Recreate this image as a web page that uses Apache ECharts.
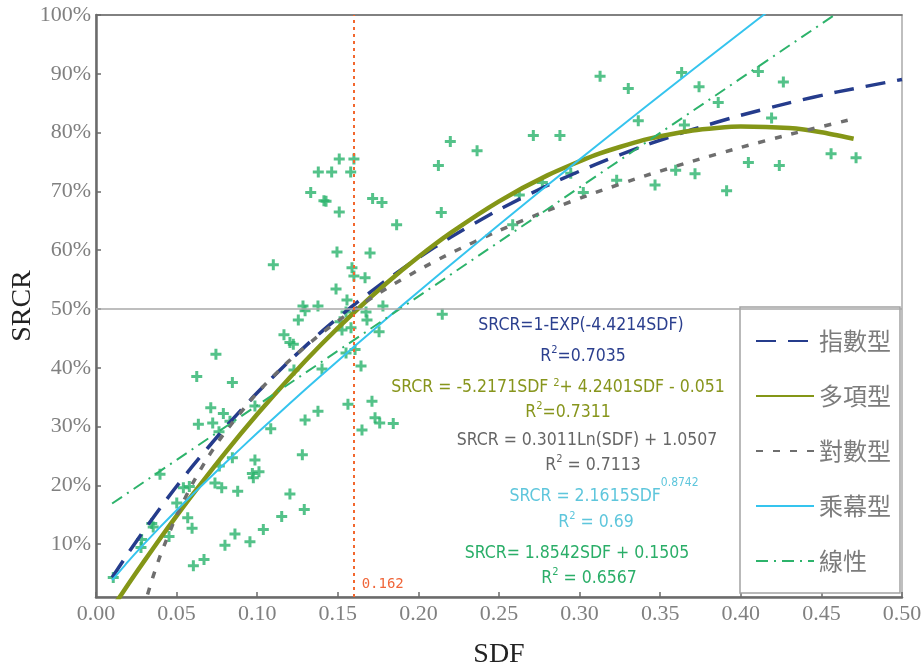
<!DOCTYPE html>
<html>
<head>
<meta charset="utf-8">
<script src="https://cdn.jsdelivr.net/npm/echarts@6/dist/echarts.min.js"></script>
<style>
  html, body { margin: 0; padding: 0; background: #ffffff; }
  #chart { width: 923px; height: 668px; }
</style>
</head>
<body>
<div id="chart"></div>
<script>
// Y-axis tick positions (shown as percentages)
const yTicks = [0.1, 0.2, 0.3, 0.4, 0.5, 0.6, 0.7, 0.8, 0.9, 1.0];
// Reference lines
const cutoffSDF = 0.162;
const refSRCR = 0.5;

// Observed samples [SDF, SRCR]
const observed = [
  [0.0107, 0.043], [0.0283, 0.108], [0.0279, 0.094], [0.0346, 0.135], [0.0355, 0.129],
  [0.0397, 0.219], [0.0453, 0.113], [0.0501, 0.170], [0.0542, 0.196], [0.0579, 0.198],
  [0.0569, 0.145], [0.0596, 0.127], [0.0604, 0.063], [0.0670, 0.074], [0.0738, 0.204],
  [0.0765, 0.233], [0.0780, 0.196], [0.0846, 0.247], [0.0879, 0.190], [0.0800, 0.098],
  [0.0862, 0.117], [0.0955, 0.104], [0.0986, 0.243], [0.0970, 0.220], [0.0976, 0.213],
  [0.1011, 0.223], [0.1038, 0.125], [0.1152, 0.147], [0.1203, 0.185], [0.1280, 0.252],
  [0.1292, 0.159],
  [0.1100, 0.575], [0.0744, 0.423], [0.0625, 0.385], [0.0846, 0.375], [0.0712, 0.332],
  [0.0635, 0.304], [0.0724, 0.306], [0.0790, 0.322], [0.0763, 0.291], [0.0831, 0.309],
  [0.0986, 0.335], [0.1084, 0.296], [0.1166, 0.456], [0.1203, 0.443], [0.1224, 0.440],
  [0.1255, 0.481], [0.1228, 0.396],
  [0.1495, 0.597], [0.1588, 0.570], [0.1700, 0.595], [0.1669, 0.553], [0.1489, 0.534],
  [0.1600, 0.556], [0.1557, 0.515], [0.1284, 0.505], [0.1297, 0.497], [0.1377, 0.505],
  [0.1551, 0.495], [0.1514, 0.478], [0.1526, 0.464], [0.1582, 0.468], [0.1675, 0.495],
  [0.1681, 0.481], [0.1780, 0.505], [0.1756, 0.461], [0.1607, 0.431], [0.1551, 0.425],
  [0.1402, 0.398], [0.1377, 0.326], [0.1297, 0.311], [0.1563, 0.338], [0.1644, 0.403],
  [0.1712, 0.343], [0.1650, 0.294], [0.1731, 0.315], [0.1760, 0.306], [0.1844, 0.305],
  [0.2148, 0.491],
  [0.3127, 0.896], [0.2713, 0.795], [0.2878, 0.795], [0.2198, 0.785], [0.2364, 0.769],
  [0.2124, 0.744], [0.1509, 0.755], [0.1600, 0.755], [0.1379, 0.733], [0.1462, 0.733],
  [0.1580, 0.733], [0.1332, 0.698], [0.1414, 0.684], [0.1427, 0.683], [0.1509, 0.665],
  [0.1716, 0.688], [0.1774, 0.681], [0.2142, 0.664], [0.1865, 0.643], [0.2769, 0.715],
  [0.2626, 0.694], [0.2945, 0.731], [0.3023, 0.698], [0.3230, 0.719], [0.2585, 0.643],
  [0.3633, 0.902], [0.3302, 0.875], [0.3741, 0.878], [0.4109, 0.904], [0.4264, 0.886],
  [0.3860, 0.851], [0.3364, 0.820], [0.3650, 0.813], [0.4191, 0.825], [0.3468, 0.711],
  [0.3596, 0.736], [0.3716, 0.730], [0.3912, 0.701], [0.4047, 0.749], [0.4239, 0.744],
  [0.4560, 0.764], [0.4715, 0.757]
];

// Fitted trend curves, sampled [SDF, SRCR]
const expCurve = [
  [0.01, 0.0433], [0.02, 0.0846], [0.03, 0.1242], [0.04, 0.1621], [0.05, 0.1983],
  [0.06, 0.2330], [0.08, 0.2979], [0.10, 0.3573], [0.12, 0.4117], [0.14, 0.4615],
  [0.16, 0.5071], [0.18, 0.5488], [0.20, 0.5870], [0.22, 0.6220], [0.25, 0.6689],
  [0.28, 0.7100], [0.31, 0.7460], [0.34, 0.7776], [0.37, 0.8052], [0.40, 0.8294],
  [0.43, 0.8506], [0.46, 0.8692], [0.50, 0.8904]
];
const polyCurve = [
  [0.012, -0.001], [0.02, 0.0317], [0.03, 0.0715], [0.04, 0.1103], [0.05, 0.1480],
  [0.06, 0.1846], [0.08, 0.2548], [0.10, 0.3208], [0.12, 0.3827], [0.14, 0.4404],
  [0.16, 0.4939], [0.18, 0.5432], [0.20, 0.5883], [0.22, 0.6293], [0.25, 0.6830],
  [0.28, 0.7272], [0.31, 0.7621], [0.34, 0.7875], [0.37, 0.8036], [0.40, 0.8103],
  [0.43, 0.8076], [0.45, 0.8006], [0.47, 0.7894]
];
const logCurve = [
  [0.032, 0.0143], [0.035, 0.0413], [0.04, 0.0815], [0.05, 0.1487], [0.06, 0.2036],
  [0.07, 0.2500], [0.08, 0.2902], [0.10, 0.3574], [0.12, 0.4123], [0.14, 0.4587],
  [0.16, 0.4989], [0.18, 0.5344], [0.20, 0.5661], [0.22, 0.5948], [0.25, 0.6333],
  [0.28, 0.6674], [0.31, 0.6981], [0.34, 0.7259], [0.37, 0.7513], [0.40, 0.7748],
  [0.43, 0.7966], [0.47, 0.8234]
];
const powerCurve = [
  [0.01, 0.0386], [0.02, 0.0707], [0.03, 0.1008], [0.04, 0.1297], [0.05, 0.1575],
  [0.06, 0.1848], [0.08, 0.2376], [0.10, 0.2888], [0.12, 0.3387], [0.14, 0.3876],
  [0.16, 0.4356], [0.18, 0.4828], [0.20, 0.5293], [0.22, 0.5753], [0.25, 0.6433],
  [0.28, 0.7103], [0.31, 0.7764], [0.34, 0.8417], [0.37, 0.9063], [0.40, 0.9703],
  [0.42, 1.0125], [0.47, 1.1171]
];
const linearCurve = [
  [0.01, 0.1690], [0.47, 1.0220]
];

const seriesNames = ['指數型', '多項型', '對數型', '乘幕型', '線性'];

const serifFont = '"Liberation Serif", "DejaVu Serif", serif';
const eqFont = '"DejaVu Sans Condensed", "DejaVu Sans", sans-serif';

// One centred equation line; `raise` lifts the superscript token by raise/2 px
function eqLine(cx, cy, text, color, raise, subSize) {
  return {
    type: 'text',
    x: cx,
    y: cy,
    silent: true,
    z: 10,
    style: {
      text: text,
      align: 'center',
      verticalAlign: 'middle',
      rich: {
        t: { fontFamily: eqFont, fontSize: 17.5, fill: color },
        s: { fontFamily: eqFont, fontSize: subSize || 11, fill: color, padding: [0, 0, raise, 0] }
      }
    }
  };
}

const chart = echarts.init(document.getElementById('chart'), null, { renderer: 'canvas' });

const option = {
  backgroundColor: '#ffffff',
  animation: false,
  grid: {
    left: 96, top: 15, width: 806, height: 582,
    outerBoundsMode: 'none',
    containLabel: false,
    show: true, borderColor: '#ababab', borderWidth: 1.5, backgroundColor: 'transparent'
  },
  xAxis: [{
    type: 'value', min: 0, max: 0.5, interval: 0.05,
    name: 'SDF', nameLocation: 'middle', nameGap: 44, nameMoveOverlap: false,
    nameTextStyle: { fontFamily: serifFont, fontSize: 28, color: '#222' },
    axisLine: { show: true, onZero: false, lineStyle: { color: '#6b6b6b', width: 2.5 } },
    axisTick: { show: true, inside: true, length: 5, lineStyle: { color: '#6b6b6b', width: 1.5 } },
    axisLabel: {
      formatter: v => v.toFixed(2), fontFamily: serifFont, fontSize: 22, color: '#808080', margin: 6
    },
    splitLine: { show: false }
  }, {
    type: 'value', min: 0, max: 0.5, position: 'top',
    axisLine: { show: true, lineStyle: { color: '#6e6e6e', width: 1.5 } },
    axisTick: { show: false }, axisLabel: { show: false }, splitLine: { show: false }
  }],
  yAxis: {
    type: 'value', min: 0.01, max: 1.0,
    name: 'SRCR', nameLocation: 'middle', nameGap: 59, nameMoveOverlap: false,
    nameTextStyle: { fontFamily: serifFont, fontSize: 28, color: '#222' },
    axisLine: { show: true, onZero: false, lineStyle: { color: '#6b6b6b', width: 2.5 } },
    axisTick: { show: true, inside: true, length: 5, customValues: yTicks, lineStyle: { color: '#6b6b6b', width: 1.5 } },
    axisLabel: {
      customValues: yTicks, formatter: v => Math.round(v * 100) + '%',
      fontFamily: serifFont, fontSize: 22, color: '#808080', margin: 5
    },
    splitLine: { show: false }
  },
  legend: {
    data: seriesNames,
    orient: 'vertical',
    left: 740, top: 307,
    padding: [22, 9, 20, 15],
    itemGap: 31,
    itemWidth: 58, itemHeight: 22,
    borderColor: '#a3a3a3', borderWidth: 1.5,
    backgroundColor: '#ffffff',
    itemStyle: { opacity: 0 },
    textStyle: { color: '#7c7c7c', fontSize: 24, fontFamily: '"Noto Sans CJK TC", "Noto Sans CJK SC", sans-serif' }
  },
  graphic: [
    eqLine(581, 325, '{t|SRCR=1-EXP(-4.4214SDF)}', '#2b3f8e', 0),
    eqLine(583, 356, '{t|R}{s|2}{t|=0.7035}', '#2b3f8e', 12),
    eqLine(558, 387, '{t|SRCR = -5.2171SDF }{s|2}{t|+ 4.2401SDF - 0.051}', '#87951c', 7),
    eqLine(568, 412, '{t|R}{s|2}{t|=0.7311}', '#87951c', 12),
    eqLine(587, 440, '{t|SRCR = 0.3011Ln(SDF) + 1.0507}', '#666666', 0),
    eqLine(593, 465, '{t|R}{s|2}{t| = 0.7113}', '#666666', 12),
    eqLine(604, 496, '{t|SRCR = 2.1615SDF}{s|0.8742}', '#5ec6dc', 26, 12),
    eqLine(596, 522, '{t|R}{s|2}{t| = 0.69}', '#5ec6dc', 12),
    eqLine(577, 553, '{t|SRCR= 1.8542SDF + 0.1505}', '#2aae68', 0),
    eqLine(589, 578, '{t|R}{s|2}{t| = 0.6567}', '#2aae68', 12)
  ],
  series: [
    {
      name: 'observed',
      type: 'scatter',
      data: observed,
      symbol: 'path://M4,0H7V4H11V7H7V11H4V7H0V4H4Z',
      symbolSize: 11,
      itemStyle: { color: '#29b36b' },
      z: 3,
      markLine: {
        silent: true,
        symbol: 'none',
        label: { show: false },
        data: [
          { yAxis: refSRCR, lineStyle: { color: '#a8a8a8', width: 1.5, type: 'solid' } },
          { xAxis: cutoffSDF, lineStyle: { color: '#f2672e', width: 2, type: [3, 4] } }
        ]
      },
      markPoint: {
        silent: true,
        data: [{
          coord: [cutoffSDF, 0.01],
          symbol: 'circle', symbolSize: 1,
          itemStyle: { color: 'rgba(0,0,0,0)' },
          label: {
            show: true, position: 'right', distance: 4, offset: [0, -13],
            formatter: String(cutoffSDF),
            color: '#f0663a', fontSize: 14, fontFamily: '"DejaVu Sans Mono", monospace'
          }
        }]
      }
    },
    {
      name: seriesNames[0], type: 'line', data: expCurve, symbol: 'none', smooth: 0.2, z: 4,
      lineStyle: { color: '#253c8c', width: 3.5, type: [20, 12] }, itemStyle: { color: '#253c8c' }
    },
    {
      name: seriesNames[1], type: 'line', data: polyCurve, symbol: 'none', smooth: 0.2, z: 4,
      lineStyle: { color: '#849617', width: 4.5 }, itemStyle: { color: '#849617' }
    },
    {
      name: seriesNames[2], type: 'line', data: logCurve, symbol: 'none', smooth: 0.2, z: 4,
      lineStyle: { color: '#6e6e6e', width: 3.5, type: [7, 10] }, itemStyle: { color: '#6e6e6e' }
    },
    {
      name: seriesNames[3], type: 'line', data: powerCurve, symbol: 'none', smooth: 0.2, z: 4,
      lineStyle: { color: '#35c4ee', width: 2 }, itemStyle: { color: '#35c4ee' }
    },
    {
      name: seriesNames[4], type: 'line', data: linearCurve, symbol: 'none', z: 4,
      lineStyle: { color: '#2db36b', width: 2, type: [12, 6, 2, 6] }, itemStyle: { color: '#2db36b' }
    }
  ]
};

chart.setOption(option);
</script>
</body>
</html>
